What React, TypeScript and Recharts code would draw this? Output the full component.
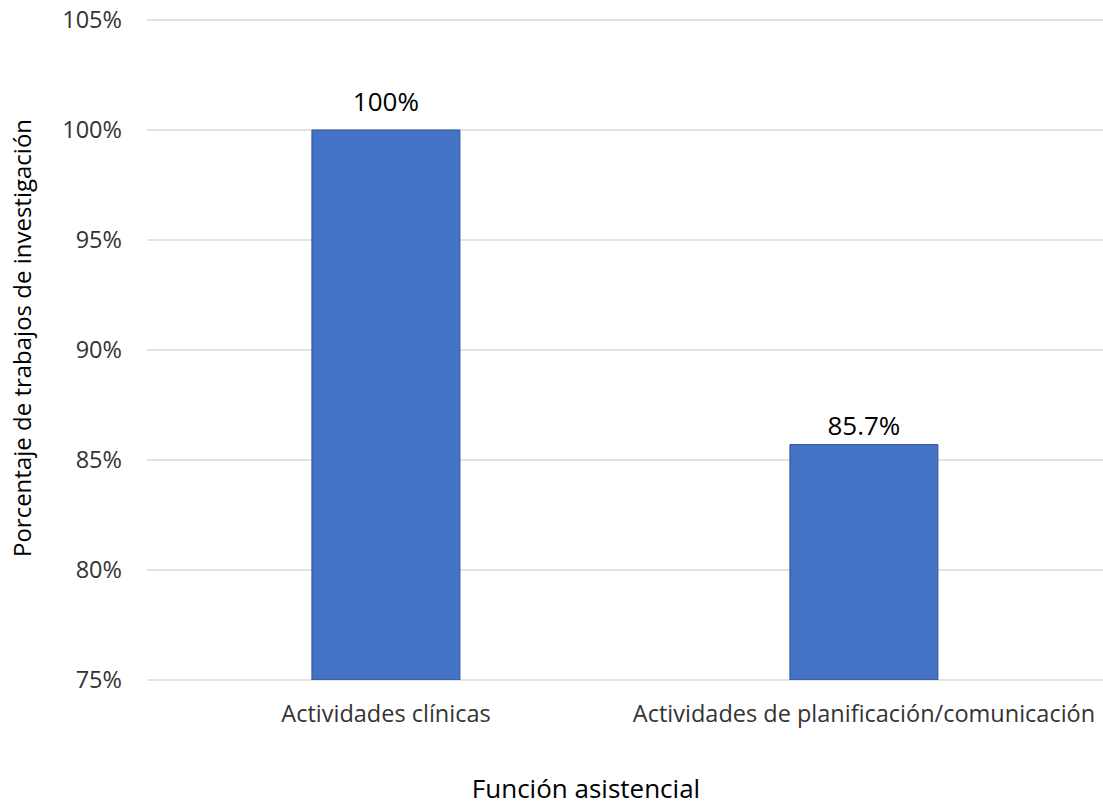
import React from "react";
import { Bar, BarChart, CartesianGrid, LabelList, XAxis, YAxis } from "recharts";

// Función asistencial -> share of research papers
const categories = ["Actividades clínicas", "Actividades de planificación/comunicación"];
const percentages = [100, 85.7];
const yTicks = [75, 80, 85, 90, 95, 100, 105];

const data = categories.map((name, i) => ({ name, value: percentages[i] }));

const FONT = "'Open Sans', sans-serif";
const TEXT = "#333333";

if (typeof document !== "undefined") {
    document.body.style.margin = "0";
}

const formatPct = (v: number) => `${v}%`;

export default function App() {
    const renderValueLabel = (props: any) => {
        const { x, y, width, value, index } = props;
        // Excel placed the first label a bit higher than the second
        const lift = index === 0 ? 19 : 10;
        return (
            <text
                x={Number(x) + Number(width) / 2}
                y={Number(y) - lift}
                textAnchor="middle"
                fill="#000"
                fontSize={26}
                fontFamily={FONT}
            >
                {formatPct(value)}
            </text>
        );
    };

    return (
        <div style={{ width: 1103, height: 807, background: "#fff", position: "relative", overflow: "hidden" }}>
            <BarChart
                width={1103}
                height={807}
                data={data}
                margin={{ top: 20, right: 0, bottom: 0, left: 0 }}
                barCategoryGap="34.5%"
            >
                <CartesianGrid vertical={false} stroke="#d9d9d9" strokeWidth={1.5} />
                <XAxis
                    dataKey="name"
                    height={127}
                    axisLine={false}
                    tickLine={false}
                    tickSize={0}
                    tickMargin={25}
                    tick={{ fill: TEXT, fontSize: 23.5, fontFamily: FONT }}
                    interval={0}
                />
                <YAxis
                    width={147}
                    domain={[75, 105]}
                    ticks={yTicks}
                    allowDataOverflow
                    axisLine={false}
                    tickLine={false}
                    tickSize={0}
                    tickMargin={25}
                    tickFormatter={formatPct}
                    tick={{ fill: TEXT, fontSize: 23.5, fontFamily: FONT }}
                />
                <Bar
                    dataKey="value"
                    fill="#4472C4"
                    stroke="#2F5597"
                    strokeWidth={1}
                    isAnimationActive={false}
                >
                    <LabelList dataKey="value" content={renderValueLabel} />
                </Bar>
            </BarChart>
            <div
                style={{
                    position: "absolute",
                    left: 22,
                    top: 338,
                    transform: "translate(-50%, -50%) rotate(-90deg)",
                    whiteSpace: "nowrap",
                    fontFamily: FONT,
                    fontSize: 24,
                    lineHeight: "28px",
                    color: "#000",
                }}
            >
                Porcentaje de trabajos de investigación
            </div>
            <div
                style={{
                    position: "absolute",
                    left: 586,
                    top: 788,
                    transform: "translate(-50%, -50%)",
                    whiteSpace: "nowrap",
                    fontFamily: FONT,
                    fontSize: 26,
                    lineHeight: "28px",
                    color: "#000",
                }}
            >
                Función asistencial
            </div>
        </div>
    );
}
